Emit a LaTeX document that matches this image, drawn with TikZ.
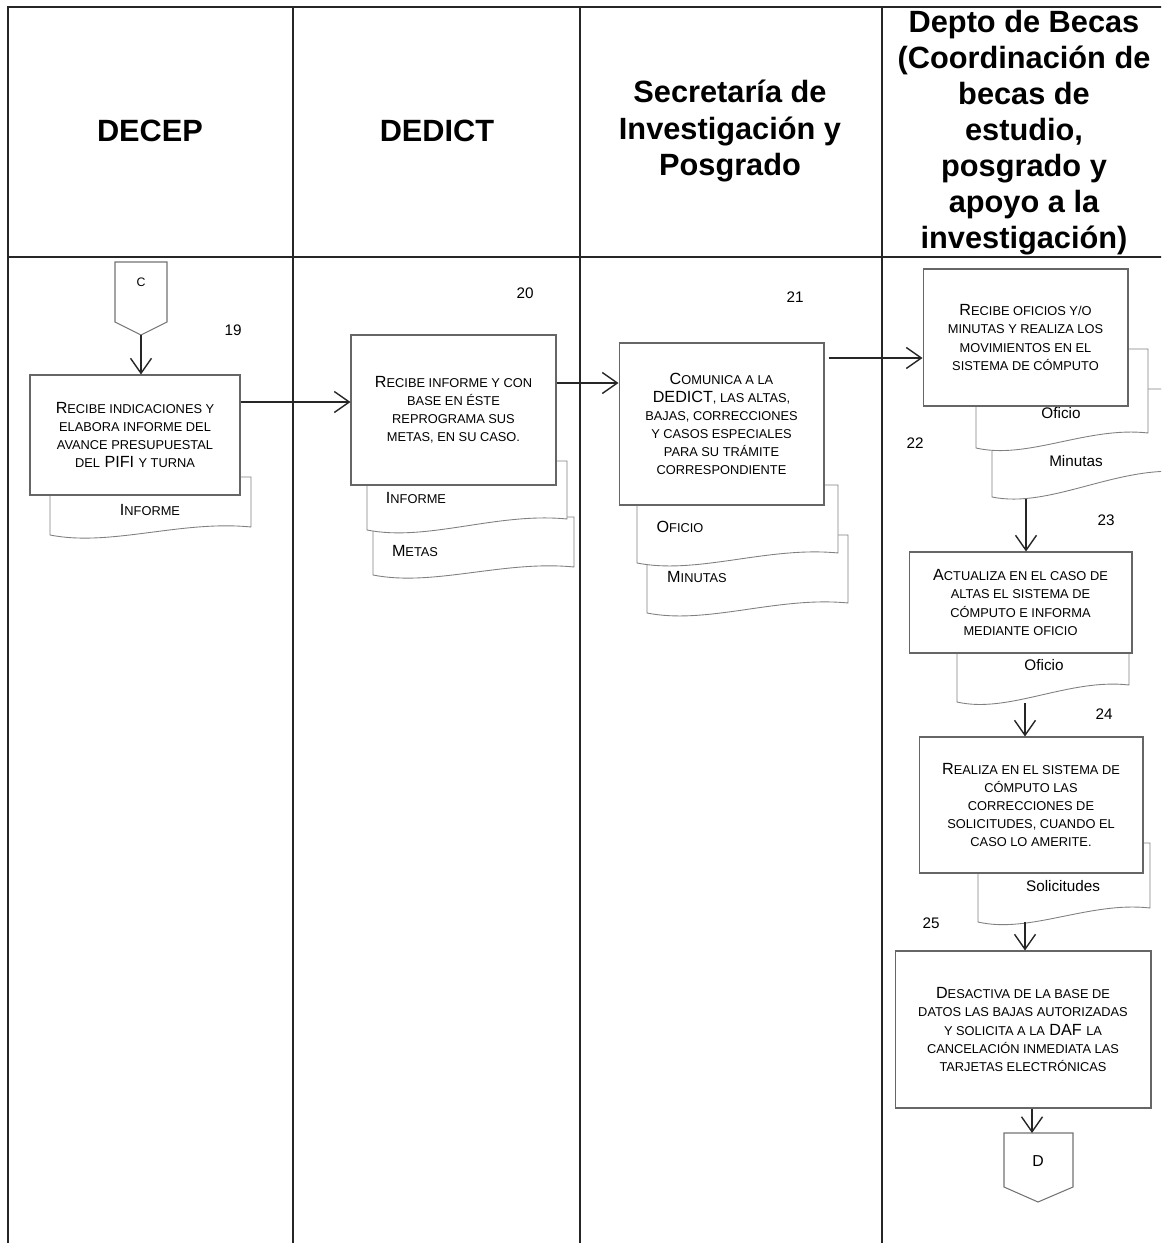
\documentclass[tikz,border=0pt]{standalone}
\usepackage{fontspec}
\setmainfont{Liberation Sans}
\usetikzlibrary{arrows.meta}

% small caps as in the original (upper case, smaller size)
\newcommand{\smc}[1]{{\fontsize{7.3}{10.3}\selectfont #1}}
% document symbol: x1, x2, top, bottom left, bottom right
\newcommand{\docpage}[5]{%
  \draw[docline] (#1,#3) -- (#2,#3) -- (#2,#5)
    .. controls ({#1+0.65*(#2-#1)},#5-7) and ({#1+0.3*(#2-#1)},#4+12) .. (#1,#4) -- cycle;}

\begin{document}
\begin{tikzpicture}[x=0.02cm,y=-0.02cm,
    lane/.style={draw=black!85,line width=0.8pt},
    lanehead/.style={font=\fontsize{17.5}{20.5}\selectfont\bfseries,align=center},
    proc/.style={draw=black!60,fill=white,line width=0.6pt,align=center,inner sep=0pt,
      font=\fontsize{9.2}{10.3}\selectfont},
    docline/.style={draw=black!50,fill=white,line width=0.5pt},
    doclabel/.style={font=\fontsize{9.2}{10.3}\selectfont},
    plainlabel/.style={font=\fontsize{8.7}{10}\selectfont},
    stepnum/.style={font=\fontsize{8.7}{10}\selectfont},
    offpage/.style={draw=black!55,fill=white,line width=0.6pt},
    flow/.style={-{Straight Barb[length=0.3cm,width=0.42cm]},draw=black!85,line width=0.8pt}]
  \useasboundingbox (0,0) rectangle (1161,1243);
  \clip (0,0) rectangle (1161,1243);

  % Swimlanes
  \draw[lane] (8,1250) -- (8,7) -- (1170,7);
  \draw[lane] (8,257) -- (1170,257);
  \foreach \xl in {293,580,882}
    \draw[lane] (\xl,7) -- (\xl,1250);

  % Lane titles
  \node[lanehead] (hDecep) at (150,131) {DECEP};
  \node[lanehead] (hDedict) at (437,131) {DEDICT};
  \node[lanehead] (hSip) at (730,131) {Secretaría de\\Investigación y\\Posgrado};
  \node[lanehead] (hBecas) at (1024,133) {Depto de Becas\\(Coordinación de\\becas de\\estudio,\\posgrado y\\apoyo a la\\investigación)};

  % Documents (behind the activity boxes)
  \docpage{50}{251}{477}{535}{527}
  \node[doclabel] (dInf19) at (150,510) {I\smc{NFORME}};
  \docpage{373}{574}{517}{575}{567}
  \node[doclabel] (dMet20) at (415,551) {M\smc{ETAS}};
  \docpage{367}{567}{461}{530}{519}
  \node[doclabel] (dInf20) at (416,498) {I\smc{NFORME}};
  \docpage{647}{848}{535}{613}{603}
  \node[doclabel] (dMin21) at (697,577) {M\smc{INUTAS}};
  \docpage{637}{838}{485}{563}{553}
  \node[doclabel] (dOfi21) at (680,527) {O\smc{FICIO}};
  \docpage{992}{1185}{389}{497}{472}
  \node[plainlabel] (dMin22) at (1076,461) {Minutas};
  \docpage{976}{1148}{349}{448}{433}
  \node[plainlabel] (dOfi22) at (1061,413) {Oficio};
  \docpage{957}{1129}{640}{702}{685}
  \node[plainlabel] (dOfi23) at (1044,665) {Oficio};
  \docpage{978}{1150}{843}{922}{908}
  \node[plainlabel] (dSol24) at (1063,886) {Solicitudes};

  % Activities
  \node[proc,minimum width=4.2cm,minimum height=2.4cm] (p19) at (135,435)
    {R\smc{ECIBE INDICACIONES Y}\\\smc{ELABORA INFORME DEL}\\\smc{AVANCE PRESUPUESTAL}\\\smc{DEL} PIFI \smc{Y TURNA}};
  \node[proc,minimum width=4.1cm,minimum height=3cm] (p20) at (453.5,410)
    {R\smc{ECIBE INFORME Y CON}\\\smc{BASE EN ÉSTE}\\\smc{REPROGRAMA SUS}\\\smc{METAS, EN SU CASO.}};
  \node[proc,minimum width=4.1cm,minimum height=3.24cm] (p21) at (721.5,424)
    {C\smc{OMUNICA A LA}\\DEDICT\smc{, LAS ALTAS,}\\\smc{BAJAS, CORRECCIONES}\\\smc{Y CASOS ESPECIALES}\\\smc{PARA SU TRÁMITE}\\\smc{CORRESPONDIENTE}};
  \node[proc,minimum width=4.1cm,minimum height=2.74cm] (p22) at (1025.5,337.5)
    {R\smc{ECIBE OFICIOS Y/O}\\\smc{MINUTAS Y REALIZA LOS}\\\smc{MOVIMIENTOS EN EL}\\\smc{SISTEMA DE CÓMPUTO}};
  \node[proc,minimum width=4.46cm,minimum height=2.02cm] (p23) at (1020.5,602.5)
    {A\smc{CTUALIZA EN EL CASO DE}\\\smc{ALTAS EL SISTEMA DE}\\\smc{CÓMPUTO E INFORMA}\\\smc{MEDIANTE OFICIO}};
  \node[proc,minimum width=4.48cm,minimum height=2.72cm] (p24) at (1031,805)
    {R\smc{EALIZA EN EL SISTEMA DE}\\\smc{CÓMPUTO LAS}\\\smc{CORRECCIONES DE}\\\smc{SOLICITUDES, CUANDO EL}\\\smc{CASO LO AMERITE.}};
  \node[proc,minimum width=5.12cm,minimum height=3.14cm] (p25) at (1023,1029.5)
    {D\smc{ESACTIVA DE LA BASE DE}\\\smc{DATOS LAS BAJAS AUTORIZADAS}\\\smc{Y SOLICITA A LA} DAF \smc{LA}\\\smc{CANCELACIÓN INMEDIATA LAS}\\\smc{TARJETAS ELECTRÓNICAS}};

  % Step numbers
  \node[stepnum] (n19) at (233,330) {19};
  \node[stepnum] (n20) at (525,293) {20};
  \node[stepnum] (n21) at (795,297) {21};
  \node[stepnum] (n22) at (915,443) {22};
  \node[stepnum] (n23) at (1106,520) {23};
  \node[stepnum] (n24) at (1104,714) {24};
  \node[stepnum] (n25) at (931,923) {25};

  % Off-page connectors
  \draw[offpage] (115,262) -- (167,262) -- (167,322) -- (141,335) -- (115,322) -- cycle;
  \node[font=\fontsize{7}{8}\selectfont] (offC) at (141,282) {C};
  \coordinate (offCtip) at (141,335);
  \draw[offpage] (1004,1133) -- (1073,1133) -- (1073,1187) -- (1038,1202) -- (1004,1187) -- cycle;
  \node[font=\fontsize{9}{10}\selectfont] (offD) at (1038,1161) {D};
  \coordinate (offDtop) at (1032,1133);

  % Flow
  \draw[flow] (offCtip) -- (offCtip |- p19.north);
  \draw[flow] (p19.east |- 0,402) -- (p20.west |- 0,402);
  \draw[flow] (p20.east |- 0,383) -- (p21.west |- 0,383);
  \draw[flow,shorten <=0.08cm] (p21.east |- 0,358) -- (p22.west |- 0,358);
  \coordinate (d22end) at (1026,499);
  \draw[flow] (d22end) -- (d22end |- p23.north);
  \coordinate (d23end) at (1025,703);
  \draw[flow] (d23end) -- (d23end |- p24.north);
  \coordinate (d24end) at (1025,922);
  \draw[flow] (d24end) -- (d24end |- p25.north);
  \draw[flow] (offDtop |- p25.south) -- (offDtop);
\end{tikzpicture}
\end{document}
